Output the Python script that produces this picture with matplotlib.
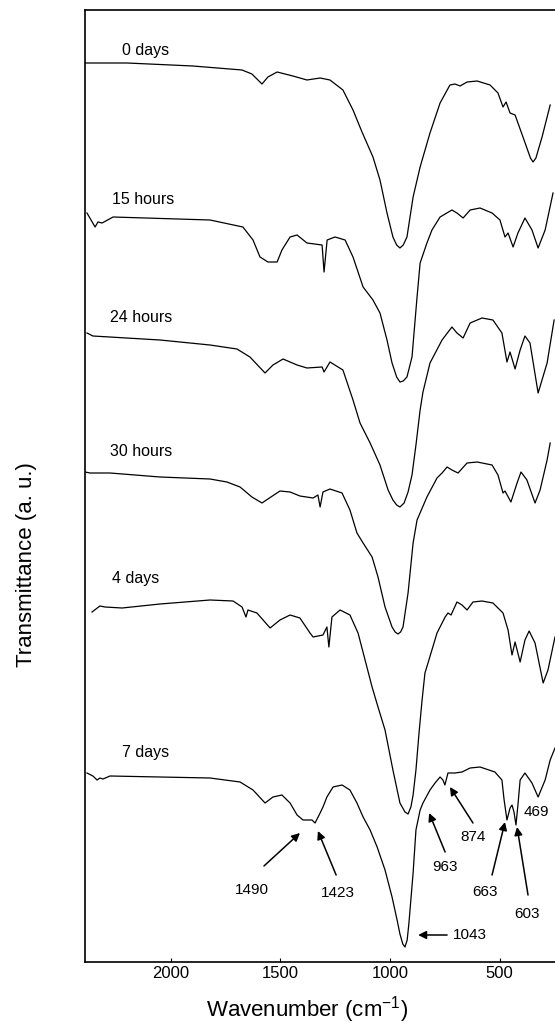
import matplotlib
matplotlib.use("Agg")
import matplotlib.pyplot as plt

plt.rcParams["font.family"] = ["Liberation Sans", "DejaVu Sans"]
plt.rcParams["mathtext.fontset"] = "custom"
plt.rcParams["mathtext.rm"] = "Liberation Sans"
plt.rcParams["mathtext.default"] = "regular"

# spectra: wavenumber (cm-1) and transmittance (a.u.)
wn_0d = [2391, 2199, 1899, 1675, 1630, 1584, 1557, 1515, 1443, 1379, 1319, 1274, 1215, 1169, 1128, 1078, 1046, 1014, 987, 970, 955,
         940, 923, 895, 863, 818, 772, 727, 704, 681, 649, 603, 544, 508, 485, 471, 453, 430, 394, 360, 348, 335, 307, 270]
t_0d = [899, 899, 896, 892, 888, 878, 885, 890, 886, 882, 884, 882, 872, 852, 830, 805, 782, 749, 725, 717, 714,
        717, 725, 765, 795, 829, 859, 877, 878, 876, 880, 881, 877, 869, 855, 860, 849, 847, 825, 804, 800, 804, 825, 857]

wn_15h = [2382, 2345, 2332, 2313, 2263, 1821, 1671, 1625, 1593, 1557, 1515, 1493, 1456, 1424, 1379, 1310, 1301, 1287, 1251, 1205,
          1169, 1123, 1078, 1046, 1014, 991, 970, 955, 940, 923, 900, 877, 863, 832, 809, 772, 718, 695, 667, 635, 590, 535,
          499, 476, 462, 439, 417, 385, 353, 325, 293, 257]
t_15h = [749, 735, 740, 739, 745, 742, 735, 722, 705, 700, 700, 712, 725, 727, 719, 717, 690, 722, 725, 722,
         705, 675, 662, 649, 622, 599, 585, 580, 581, 585, 605, 665, 699, 719, 732, 745, 752, 749, 744, 752, 754, 749,
         742, 725, 729, 715, 729, 744, 732, 714, 732, 769]

wn_24h = [2382, 2355, 2049, 1821, 1698, 1639, 1570, 1534, 1488, 1424, 1379, 1310, 1301, 1274, 1215, 1169, 1137, 1091, 1046, 1009,
          987, 970, 955, 936, 918, 900, 882, 863, 850, 818, 763, 718, 695, 667, 635, 581, 531, 490, 467, 453, 430,
          407, 385, 362, 325, 284, 252]
t_24h = [629, 626, 622, 617, 613, 605, 589, 597, 603, 597, 594, 595, 590, 600, 592, 562, 539, 519, 497, 472,
         462, 457, 455, 459, 470, 487, 517, 552, 570, 599, 622, 635, 629, 624, 639, 644, 642, 629, 600, 610, 593,
         612, 626, 619, 569, 599, 642]

wn_30h = [2391, 2368, 2277, 2049, 1821, 1744, 1684, 1630, 1584, 1557, 1502, 1456, 1411, 1351, 1329, 1319, 1306, 1274, 1219, 1183,
          1151, 1123, 1082, 1055, 1023, 991, 977, 964, 952, 941, 918, 895, 877, 832, 786, 763, 740, 718, 690, 649, 603, 535,
          508, 485, 476, 449, 421, 403, 376, 339, 316, 284, 270]
t_30h = [490, 489, 489, 485, 483, 480, 475, 465, 459, 463, 471, 470, 466, 464, 467, 455, 470, 473, 469, 452,
         429, 419, 405, 385, 355, 335, 330, 328, 330, 335, 369, 419, 442, 465, 484, 489, 495, 492, 489, 499, 500, 497,
         487, 469, 471, 460, 479, 490, 482, 459, 472, 502, 519]

wn_4d = [2359, 2323, 2300, 2222, 2049, 1821, 1716, 1675, 1657, 1648, 1607, 1547, 1502, 1456, 1411, 1365, 1351, 1306, 1288, 1279,
         1265, 1228, 1183, 1146, 1114, 1082, 1055, 1023, 987, 955, 932, 918, 905, 895, 882, 868, 854, 841, 827, 786, 749, 736,
         722, 695, 672, 649, 622, 581, 531, 485, 462, 444, 430, 407, 385, 366, 339, 302, 280, 248]
t_4d = [350, 356, 355, 354, 358, 362, 361, 355, 345, 352, 349, 334, 342, 347, 344, 329, 325, 327, 335, 315,
        345, 352, 347, 329, 302, 275, 255, 232, 192, 159, 150, 148, 155, 167, 192, 229, 262, 289, 299, 329, 345, 349,
        347, 360, 357, 352, 360, 361, 359, 349, 332, 307, 320, 300, 322, 331, 319, 279, 292, 325]

wn_7d = [2382, 2355, 2336, 2323, 2309, 2277, 2049, 1821, 1684, 1625, 1570, 1534, 1493, 1456, 1424, 1397, 1356, 1342, 1319, 1306,
         1288, 1260, 1219, 1183, 1151, 1123, 1091, 1059, 1023, 991, 968, 955, 942, 932, 922, 914, 895, 882, 863, 850, 818, 795,
         772, 759, 750, 736, 704, 672, 635, 590, 522, 490, 480, 467, 453, 444, 435, 426, 417, 407, 385, 353,
         325, 293, 270, 248]
t_7d = [189, 186, 182, 184, 183, 186, 185, 184, 180, 172, 159, 165, 167, 159, 147, 142, 142, 139, 149, 155,
        165, 175, 177, 172, 159, 145, 132, 115, 92, 65, 42, 28, 18, 15, 22, 39, 89, 132, 152, 159, 172, 179,
        185, 182, 177, 189, 189, 190, 194, 195, 190, 182, 162, 142, 154, 157, 150, 137, 157, 182, 189, 179,
        165, 182, 202, 214]

spectra = [(wn_0d, t_0d), (wn_15h, t_15h), (wn_24h, t_24h), (wn_30h, t_30h), (wn_4d, t_4d), (wn_7d, t_7d)]

curve_labels = ["0 days", "15 hours", "24 hours", "30 hours", "4 days", "7 days"]
label_x = [2222, 2268, 2277, 2277, 2268, 2222]
label_y = [912, 762, 644, 510, 384, 209]

# peak annotations on the 7 days spectrum: label, text pos, arrow tail, arrow head
peak_names = ["1490", "1423", "963", "874", "663", "603"]
peak_text = [(1630, 72), (1237, 69), (749, 95), (622, 125), (567, 70), (376, 48)]
peak_tail = [(1575, 96), (1246, 87), (749, 110), (622, 139), (535, 87), (371, 67)]
peak_head = [(1411, 129), (1329, 131), (822, 149), (727, 175), (476, 140), (421, 135)]

xticks = [2000, 1500, 1000, 500]

fig = plt.figure(figsize=(5.55, 10.30), dpi=100)
ax = fig.add_axes([85 / 555, 68 / 1030, 470 / 555, 952 / 1030])

for wn, t in spectra:
    ax.plot(wn, t, color="black", lw=0.9)

for name, x, y in zip(curve_labels, label_x, label_y):
    ax.text(x, y, name, fontsize=11.5, ha="left", va="center")

arrow = dict(arrowstyle="-|>", color="black", lw=1.1, mutation_scale=12, shrinkA=0, shrinkB=0)
for name, txt, tail, head in zip(peak_names, peak_text, peak_tail, peak_head):
    ax.annotate("", xy=head, xytext=tail, arrowprops=arrow)
    ax.text(txt[0], txt[1], name, fontsize=11, ha="center", va="center")

# 1043 with a horizontal arrow, 469 without arrow
ax.annotate("", xy=(872, 27), xytext=(740, 27), arrowprops=arrow)
ax.text(713, 27, "1043", fontsize=11, ha="left", va="center")
ax.text(389, 150, "469", fontsize=11, ha="left", va="center")

ax.set_xlim(2391, 248)
ax.set_ylim(0, 952)
ax.set_xticks(xticks)
ax.set_xticklabels([str(v) for v in xticks], fontsize=12)
ax.tick_params(axis="x", direction="in", length=3, pad=3)
ax.set_yticks([])
ax.spines["right"].set_visible(False)
for s in ["left", "top", "bottom"]:
    ax.spines[s].set_linewidth(1.2)

fig.text(307 / 555, 1 - 1010 / 1030, "Wavenumber (cm$^{-1}$)", fontsize=16, ha="center", va="center")
fig.text(27 / 555, 1 - 565 / 1030, "Transmittance (a. u.)", fontsize=16, rotation=90, ha="center", va="center")

fig.savefig("out.png", dpi=100)
